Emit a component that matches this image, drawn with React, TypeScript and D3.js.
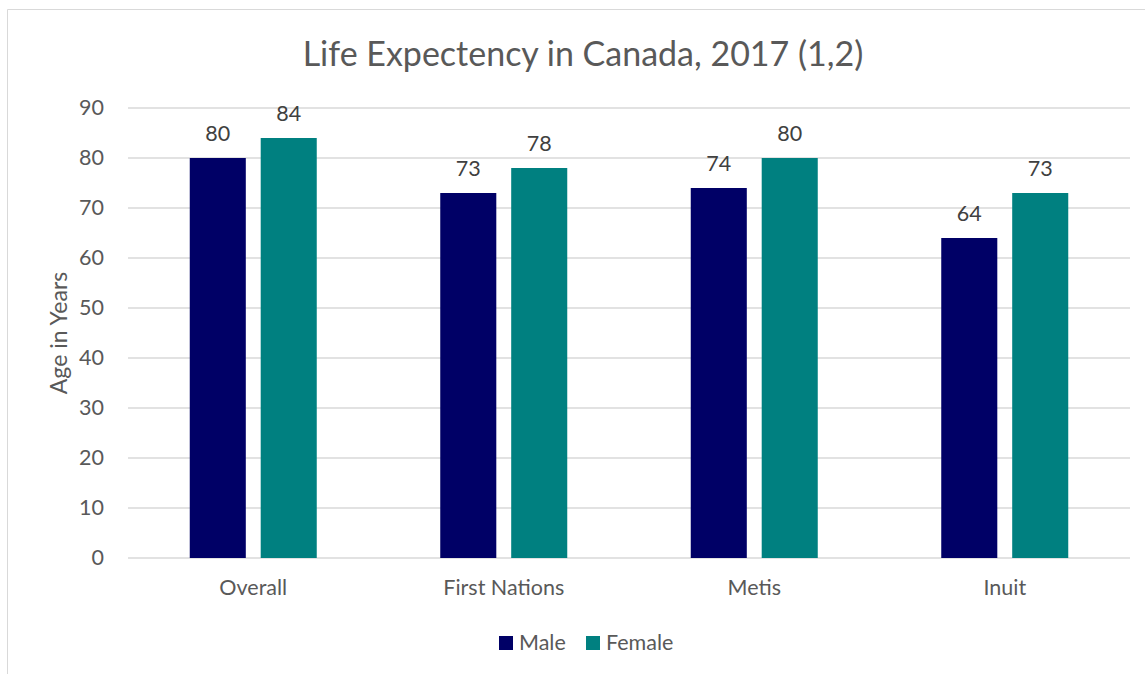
import React, { useEffect, useRef } from 'react';
import * as d3 from 'd3';

// values
const categories = ['Overall', 'First Nations', 'Metis', 'Inuit'];
const seriesNames = ['Male', 'Female'];
const maleValues = [80, 73, 74, 64];
const femaleValues = [84, 78, 80, 73];
const yTicks = [0, 10, 20, 30, 40, 50, 60, 70, 80, 90];

const colors = { Male: '#000066', Female: '#008080' };
const textColor = '#595959';
const font = 'Lato, "Open Sans", sans-serif';
const labelSize = 21.5;

const App = () => {
  const ref = useRef<SVGSVGElement>(null);

  useEffect(() => {
    drawChart();
  }, []);

  const drawChart = () => {
    const svg = d3.select(ref.current);
    svg.selectAll('*').remove();

    const width = 1145;
    const height = 674;
    const margin = { top: 108, right: 15, bottom: 116, left: 128 };
    const plotW = width - margin.left - margin.right;
    const plotH = height - margin.top - margin.bottom;

    svg.append('rect')
      .attr('width', width)
      .attr('height', height)
      .attr('fill', '#ffffff');

    // chart border (only top and left are in view)
    svg.append('line')
      .attr('x1', 7.5).attr('x2', width)
      .attr('y1', 9.5).attr('y2', 9.5)
      .attr('stroke', '#d9d9d9');
    svg.append('line')
      .attr('x1', 7.5).attr('x2', 7.5)
      .attr('y1', 9.5).attr('y2', height)
      .attr('stroke', '#d9d9d9');

    svg.append('text')
      .attr('x', 583)
      .attr('y', 66)
      .attr('text-anchor', 'middle')
      .attr('font-family', font)
      .attr('font-size', 34)
      .attr('fill', textColor)
      .text('Life Expectency in Canada, 2017 (1,2)');

    const g = svg.append('g').attr('transform', `translate(${margin.left},${margin.top})`);

    const x0 = d3.scaleBand()
      .domain(categories)
      .range([0, plotW])
      .paddingInner(0.493)
      .paddingOuter(0.2465);

    const x1 = d3.scaleBand()
      .domain(seriesNames)
      .range([0, x0.bandwidth()])
      .paddingInner(0.21);

    const y = d3.scaleLinear().domain([0, 90]).range([plotH, 0]);

    // gridlines
    g.append('g')
      .selectAll('line')
      .data(yTicks)
      .join('line')
      .attr('x1', 0)
      .attr('x2', plotW)
      .attr('y1', d => y(d))
      .attr('y2', d => y(d))
      .attr('stroke', '#d9d9d9')
      .attr('stroke-width', 1.3);

    // y axis labels
    const yAxis = g.append('g')
      .call(d3.axisLeft(y).tickValues(yTicks).tickSize(0).tickPadding(24));
    yAxis.select('.domain').remove();
    yAxis.selectAll('text')
      .attr('font-family', font)
      .attr('font-size', labelSize)
      .attr('fill', textColor);

    // x axis labels
    const xAxis = g.append('g')
      .attr('transform', `translate(0,${plotH})`)
      .call(d3.axisBottom(x0).tickSize(0).tickPadding(22));
    xAxis.select('.domain').remove();
    xAxis.selectAll('text')
      .attr('font-family', font)
      .attr('font-size', labelSize)
      .attr('fill', textColor);

    svg.append('text')
      .attr('transform', `translate(67,${margin.top + plotH / 2}) rotate(-90)`)
      .attr('text-anchor', 'middle')
      .attr('font-family', font)
      .attr('font-size', 23)
      .attr('fill', textColor)
      .text('Age in Years');

    const rows = categories.map((c, i) => ({
      category: c,
      values: [
        { key: 'Male', value: maleValues[i] },
        { key: 'Female', value: femaleValues[i] },
      ],
    }));

    const groups = g.selectAll('.group')
      .data(rows)
      .join('g')
      .attr('class', 'group')
      .attr('transform', d => `translate(${x0(d.category)},0)`);

    groups.selectAll('rect')
      .data(d => d.values)
      .join('rect')
      .attr('x', d => x1(d.key))
      .attr('y', d => y(d.value))
      .attr('width', x1.bandwidth())
      .attr('height', d => plotH - y(d.value))
      .attr('fill', d => colors[d.key]);

    groups.selectAll('.label')
      .data(d => d.values)
      .join('text')
      .attr('class', 'label')
      .attr('x', d => x1(d.key) + x1.bandwidth() / 2)
      .attr('y', d => y(d.value) - 17)
      .attr('text-anchor', 'middle')
      .attr('font-family', font)
      .attr('font-size', 21.5)
      .attr('fill', '#404040')
      .text(d => d.value);

    // legend
    const legend = svg.append('g').attr('transform', 'translate(499,636)');
    const legendX = [0, 87];
    seriesNames.forEach((s, i) => {
      legend.append('rect')
        .attr('x', legendX[i])
        .attr('y', 0)
        .attr('width', 14)
        .attr('height', 14)
        .attr('fill', colors[s]);
      legend.append('text')
        .attr('x', legendX[i] + 20)
        .attr('y', 14)
        .attr('font-family', font)
        .attr('font-size', labelSize)
        .attr('fill', textColor)
        .text(s);
    });
  };

  return (
    <svg
      ref={ref}
      width={1145}
      height={674}
      style={{ display: 'block', position: 'absolute', left: 0, top: 0 }}
    />
  );
};

export default App;
